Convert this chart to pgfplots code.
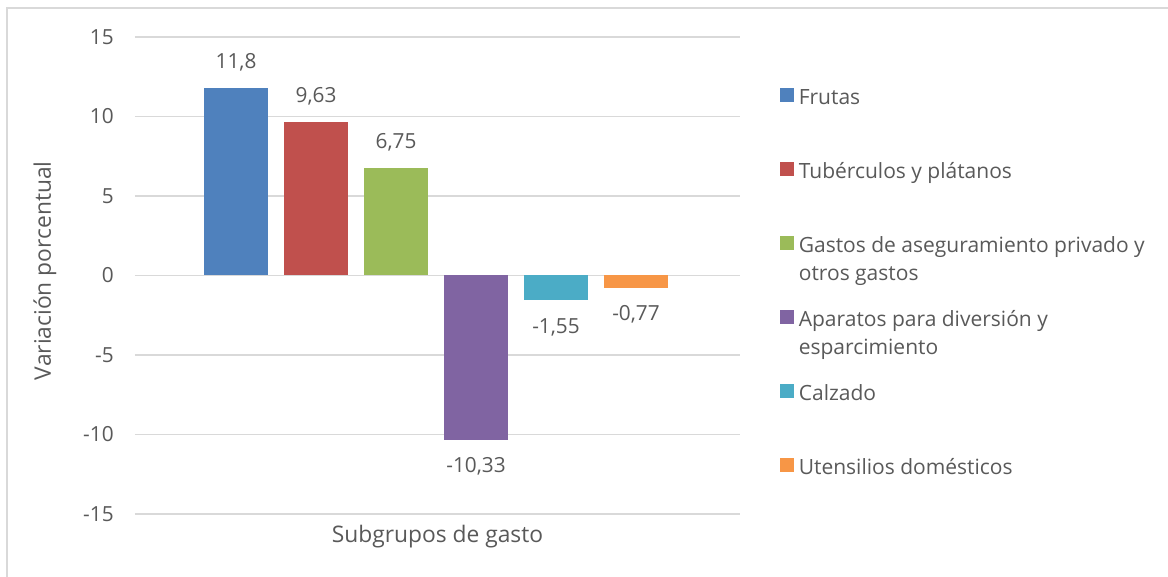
\documentclass[border=0pt]{standalone}
\usepackage{fontspec}
\setmainfont{Open Sans}
\usepackage{pgfplots}
\pgfplotsset{compat=1.18}
\definecolor{txt}{HTML}{595959}
\definecolor{gridc}{HTML}{D9D9D9}
\definecolor{c1}{HTML}{4F81BD}
\definecolor{c2}{HTML}{C0504D}
\definecolor{c3}{HTML}{9BBB59}
\definecolor{c4}{HTML}{8064A2}
\definecolor{c5}{HTML}{4BACC6}
\definecolor{c6}{HTML}{F79646}
\newcommand{\fs}{\fontsize{10.4}{14}\selectfont}
\newcommand{\fl}{\fontsize{10.5}{14}\selectfont}
\newcommand{\ft}{\fontsize{11.4}{14}\selectfont}
\pgfplotsset{
  posl/.style={nodes near coords, point meta=explicit symbolic,
    every node near coord/.append style={anchor=center, yshift=13pt, text=txt, font=\fs}},
  negl/.style={nodes near coords, point meta=explicit symbolic,
    every node near coord/.append style={anchor=center, yshift=-13.5pt, text=txt, font=\fs}},
}
\begin{document}
\fs
\begin{tikzpicture}
\useasboundingbox (0,0) rectangle (584pt,288.5pt);
\draw[gridc, line width=0.75pt] (3.5pt,0) -- (3.5pt,284.5pt) -- (584pt,284.5pt);
\begin{axis}[
  at={(67.5pt,31.5pt)}, anchor=south west,
  scale only axis, width=302.5pt, height=238.5pt,
  xmin=-1.2625, xmax=6.3, ymin=-15, ymax=15,
  ytick={-15,-10,-5,0,5,10,15},
  yticklabels={-15,-10,-5,0,5,10,15},
  xtick=\empty,
  ymajorgrids, grid style={gridc, line width=0.75pt},
  axis line style={draw=none}, major tick length=0pt,
  yticklabel style={anchor=east, xshift=-7pt, text=txt, font=\fs},
  ylabel={Variación porcentual},
  ylabel style={at={(axis description cs:-0.1488,0.51)}, anchor=center, text=txt, font=\ft},
  xlabel={Subgrupos de gasto},
  xlabel style={at={(axis description cs:0.5,0)}, anchor=center, yshift=-11.5pt, text=txt, font=\ft},
  ybar, bar width=0.8, bar shift=0pt,
  legend image code/.code={\fill[#1] (0pt,-2.8pt) rectangle (7pt,4.2pt);},
  legend style={draw=none, fill=none, inner sep=0pt, row sep=23.2pt,
    at={(axis description cs:1.066,0.9059)}, anchor=north west,
    font=\fl, text=txt,
    nodes={inner sep=1.25pt}},
  legend cell align=left,
]
\addplot[fill=c1, draw=none, posl] coordinates {(0,11.8) [11{,}8]};
\addlegendentry{\strut\hspace{1pt}Frutas}
\addplot[fill=c2, draw=none, posl] coordinates {(1,9.63) [9{,}63]};
\addlegendentry{\strut\hspace{1pt}Tubérculos y plátanos}
\addplot[fill=c3, draw=none, posl] coordinates {(2,6.75) [6{,}75]};
\addlegendentry{\strut\hspace{1pt}\smash{\begin{tabular}[t]{@{}l@{}}Gastos de aseguramiento privado y\\otros gastos\end{tabular}}}
\addplot[fill=c4, draw=none, negl] coordinates {(3,-10.33) [-10{,}33]};
\addlegendentry{\strut\hspace{1pt}\smash{\begin{tabular}[t]{@{}l@{}}Aparatos para diversión y\\esparcimiento\end{tabular}}}
\addplot[fill=c5, draw=none, negl] coordinates {(4,-1.55) [-1{,}55]};
\addlegendentry{\strut\hspace{1pt}Calzado}
\addplot[fill=c6, draw=none, negl] coordinates {(5,-0.77) [-0{,}77]};
\addlegendentry{\strut\hspace{1pt}Utensilios domésticos}
\end{axis}
\end{tikzpicture}
\end{document}
